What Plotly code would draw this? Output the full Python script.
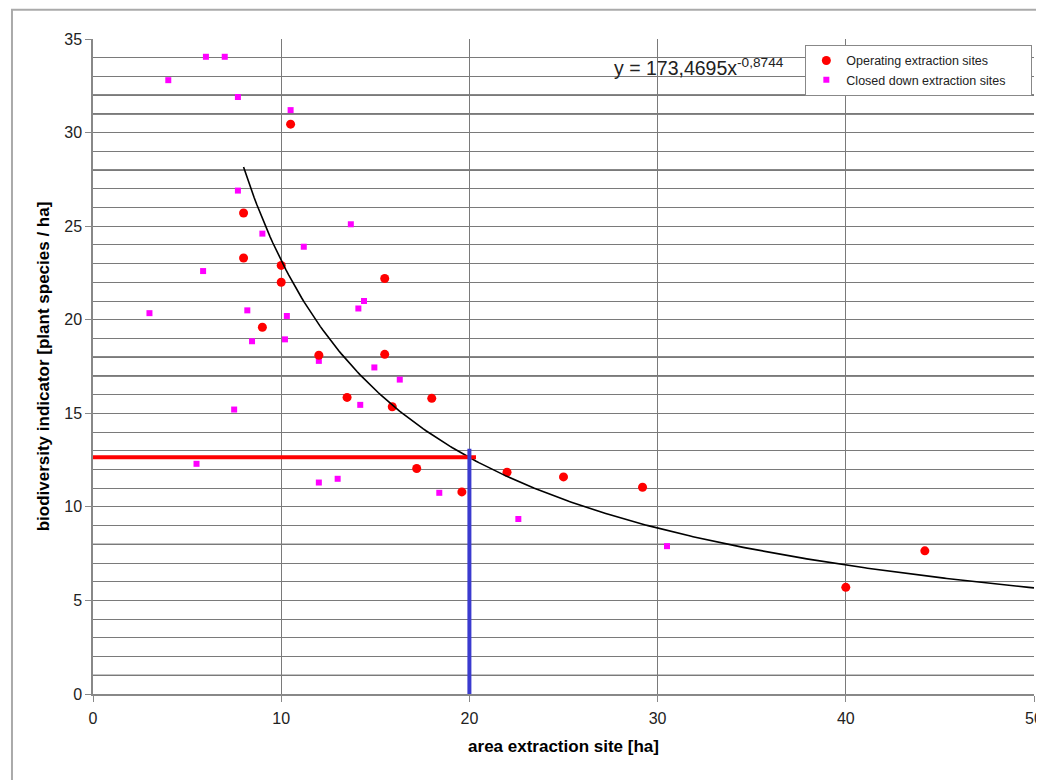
import plotly.graph_objects as go
import numpy as np

# Operating extraction sites (red circles)
op_x = [10.5, 8.0, 8.0, 10.0, 10.0, 15.5, 9.0, 12.0, 15.5, 13.5, 15.9, 18.0, 17.2, 19.6, 22.0, 25.0, 29.2, 40.0, 44.2]
op_y = [30.45, 25.7, 23.3, 22.9, 22.0, 22.2, 19.6, 18.1, 18.15, 15.85, 15.35, 15.8, 12.05, 10.8, 11.85, 11.6, 11.05, 5.7, 7.65]

# Closed down extraction sites (magenta squares)
cl_x = [6.0, 7.0, 4.0, 7.7, 10.5, 7.7, 9.0, 13.7, 11.2, 5.85, 3.0, 8.2, 10.3, 8.45, 10.2, 14.1, 14.4, 12.0, 14.95, 16.3, 14.2, 7.5, 5.5, 12.0, 13.0, 18.4, 22.6, 30.5]
cl_y = [34.05, 34.05, 32.8, 31.9, 31.2, 26.9, 24.6, 25.1, 23.9, 22.6, 20.35, 20.5, 20.2, 18.85, 18.95, 20.6, 21.0, 17.8, 17.45, 16.8, 15.45, 15.2, 12.3, 11.3, 11.5, 10.75, 9.35, 7.9]

# Power trendline y = a * x^b
trend_a = 173.4695
trend_b = -0.8744
trend_x_range = [8.0, 50.0]

# Reading lines (threshold at 20 ha)
red_x = [0, 20.35]
red_y = [12.65, 12.65]
blue_x = [20, 20]
blue_y = [0, 13.1]

x_ticks = [0, 10, 20, 30, 40, 50]
y_ticks = [0, 5, 10, 15, 20, 25, 30, 35]
dark_grid_y = [1, 8, 17, 18, 28, 31, 32]

tx = np.linspace(trend_x_range[0], trend_x_range[1], 300)
ty = trend_a * tx ** trend_b

fig = go.Figure()

pad = "&nbsp;" * 6
fig.add_trace(go.Scatter(x=cl_x, y=cl_y, mode="markers", name="Closed down extraction sites" + pad,
                         legendgroup="b", legendrank=2,
                         marker=dict(symbol="square", size=6, color="#ff00ff")))
fig.add_trace(go.Scatter(x=op_x, y=op_y, mode="markers", name="Operating extraction sites",
                         legendgroup="a", legendrank=1,
                         marker=dict(symbol="circle", size=9, color="#ff0000")))
fig.add_trace(go.Scatter(x=tx, y=ty, mode="lines", line=dict(color="black", width=1.6),
                         showlegend=False, hoverinfo="skip"))
fig.add_trace(go.Scatter(x=red_x, y=red_y, mode="lines", line=dict(color="#ff0000", width=4),
                         showlegend=False))
fig.add_trace(go.Scatter(x=blue_x, y=blue_y, mode="lines", line=dict(color="#3b3bcf", width=4),
                         showlegend=False))

shapes = []
for v in dark_grid_y:
    shapes.append(dict(type="line", xref="x", yref="y", x0=0, x1=50, y0=v, y1=v,
                       line=dict(color="#111111", width=1.2), layer="below"))
# outer frame
shapes.append(dict(type="rect", xref="paper", yref="paper", x0=-0.0861, x1=1.03, y0=-0.2, y1=1.0445,
                   line=dict(color="#aaaaaa", width=2), layer="below"))

fig.update_layout(
    width=1036, height=772,
    margin=dict(l=85, r=10, t=31, b=86, autoexpand=False),
    paper_bgcolor="white", plot_bgcolor="white",
    font=dict(family="Liberation Sans, Arial, sans-serif", color="#222222"),
    shapes=shapes,
    legend=dict(x=0.757, y=0.991, xanchor="left", yanchor="top",
                bgcolor="white", bordercolor="#888888", borderwidth=1,
                font=dict(size=12.5, color="#222222"), tracegroupgap=0,
                itemwidth=30),
    annotations=[dict(x=27.6, y=33.5, xref="x", yref="y", xanchor="left", yanchor="middle",
                      text="y = 173,4695x<sup>-0,8744</sup>", showarrow=False,
                      font=dict(size=19.5, color="#222222"))],
)

fig.update_xaxes(range=[0, 50], tickvals=x_ticks, showgrid=True, gridcolor="#7a7a7a", gridwidth=1,
                 showline=True, linecolor="#888888", linewidth=1.5, ticks="outside", ticklen=6,
                 tickcolor="#888888", zeroline=False, tickfont=dict(size=16, color="#222222"),
                 automargin=False, ticklabelstandoff=3,
                 title=dict(text="<b>area extraction site [ha]</b>", font=dict(size=17, color="black"),
                            standoff=14))
fig.update_yaxes(range=[0, 35], tickvals=y_ticks, showgrid=True, gridcolor="#7a7a7a", gridwidth=1,
                 minor=dict(dtick=1, showgrid=True, gridcolor="#7a7a7a", gridwidth=1),
                 showline=True, linecolor="#888888", linewidth=1.5, ticks="outside", ticklen=6,
                 tickcolor="#888888", zeroline=False, tickfont=dict(size=16, color="#222222"),
                 automargin=False,
                 title=dict(text="<b>biodiversity indicator [plant species / ha]</b>",
                            font=dict(size=17, color="black"), standoff=10))

fig.write_html("out.html")
